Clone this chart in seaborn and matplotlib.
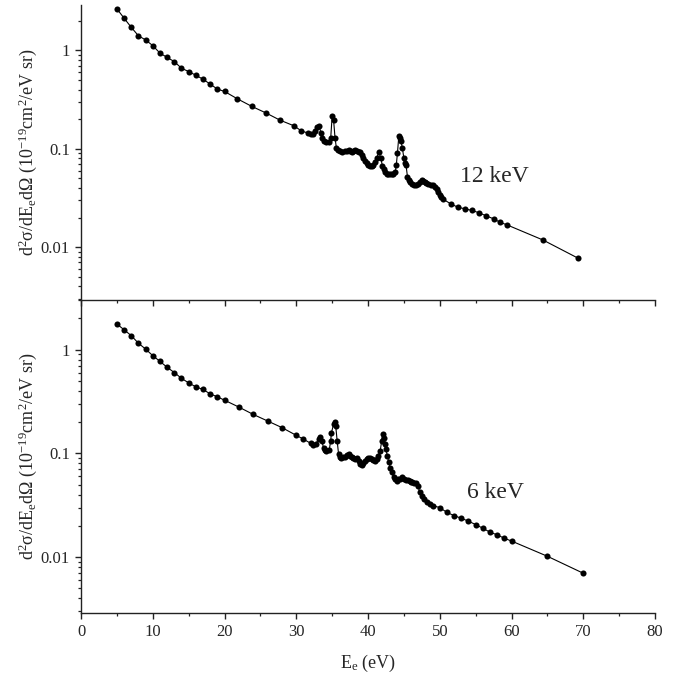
import numpy as np
import pandas as pd
import matplotlib
matplotlib.use("Agg")
import matplotlib.pyplot as plt
import seaborn as sns
from matplotlib.ticker import LogLocator, NullFormatter, MultipleLocator, FixedLocator, FixedFormatter

# ---------------- data ----------------
e_12kev = [5, 6, 7, 8, 9, 10, 11, 12, 13, 14, 15, 16, 17, 18, 19, 20,
           21.8, 23.8, 25.8, 27.7, 29.7, 30.7, 31.7, 32.0, 32.3, 32.6, 32.9, 33.2,
           33.45, 33.65, 33.9, 34.2, 34.5, 34.8, 35.0, 35.2, 35.4, 35.6, 35.85, 36.1,
           36.4, 36.8, 37.05, 37.3, 37.5, 37.7, 37.95, 38.2, 38.45, 38.7, 38.9, 39.1,
           39.3, 39.55, 39.8, 40.05, 40.3, 40.5, 40.7, 40.95, 41.2, 41.5, 41.8, 42.0,
           42.2, 42.4, 42.6, 42.8, 43.05, 43.3, 43.55, 43.8, 43.95, 44.1, 44.3, 44.45,
           44.6, 44.8, 45.0, 45.15, 45.3, 45.5, 45.7, 45.9, 46.15, 46.4, 46.65, 46.9,
           47.2, 47.5, 47.7, 47.9, 48.15, 48.4, 48.75, 49.1, 49.35, 49.6, 49.8, 50.0,
           50.2, 50.4, 51.5, 52.5, 53.5, 54.5, 55.5, 56.4, 57.5, 58.4, 59.4, 64.4, 69.3]
cs_12kev = [2.65, 2.13, 1.72, 1.41, 1.28, 1.12, 0.94, 0.85, 0.77, 0.66, 0.61, 0.56,
            0.51, 0.455, 0.405, 0.383, 0.322, 0.27, 0.231, 0.196, 0.171, 0.152, 0.144,
            0.140, 0.142, 0.150, 0.165, 0.171, 0.144, 0.128, 0.120, 0.117, 0.117, 0.128,
            0.214, 0.197, 0.130, 0.101, 0.097, 0.094, 0.093, 0.094, 0.096, 0.097, 0.094,
            0.092, 0.095, 0.097, 0.095, 0.093, 0.092, 0.086, 0.080, 0.075, 0.071, 0.068,
            0.067, 0.067, 0.069, 0.074, 0.080, 0.092, 0.080, 0.067, 0.062, 0.058, 0.056,
            0.055, 0.055, 0.055, 0.056, 0.058, 0.069, 0.090, 0.136, 0.128, 0.119, 0.101,
            0.080, 0.072, 0.068, 0.052, 0.048, 0.046, 0.044, 0.0426, 0.043, 0.044, 0.046,
            0.048, 0.047, 0.046, 0.045, 0.044, 0.043, 0.0426, 0.041, 0.039, 0.036, 0.0336,
            0.032, 0.031, 0.0276, 0.0255, 0.0245, 0.0236, 0.0223, 0.0209, 0.0194, 0.0179,
            0.0168, 0.0118, 0.0077]

e_6kev = [5, 6, 7, 8, 9, 10, 11, 12, 13, 14, 15, 16, 17, 18, 19, 20, 22, 24, 26, 28,
          30, 31, 32.0, 32.4, 32.75, 33.1, 33.3, 33.55, 33.8, 34.0, 34.2, 34.6, 34.8,
          34.9, 35.2, 35.4, 35.5, 35.7, 35.9, 36.1, 36.3, 36.55, 36.8, 37.05, 37.3, 37.5,
          37.7, 37.95, 38.2, 38.5, 38.7, 38.9, 39.1, 39.35, 39.6, 39.8, 40.0, 40.25, 40.5,
          40.75, 41.0, 41.2, 41.4, 41.7, 41.9, 42.05, 42.2, 42.4, 42.5, 42.7, 42.9, 43.1,
          43.3, 43.6, 43.8, 44.0, 44.25, 44.5, 44.8, 45.05, 45.3, 45.55, 45.8, 46.0, 46.2,
          46.45, 46.7, 47.0, 47.2, 47.5, 47.8, 48.2, 48.6, 49.1, 50, 51, 52, 53, 54, 55,
          56, 57, 58, 59, 60, 65, 70]
cs_6kev = [1.76, 1.55, 1.36, 1.15, 1.01, 0.873, 0.769, 0.674, 0.60, 0.528, 0.477, 0.437,
           0.412, 0.374, 0.35, 0.325, 0.279, 0.237, 0.205, 0.177, 0.149, 0.137, 0.125,
           0.120, 0.124, 0.137, 0.145, 0.132, 0.1135, 0.108, 0.105, 0.108, 0.132, 0.158,
           0.190, 0.200, 0.183, 0.132, 0.098, 0.093, 0.091, 0.092, 0.093, 0.096, 0.098,
           0.095, 0.093, 0.091, 0.089, 0.091, 0.085, 0.0786, 0.0768, 0.080, 0.0846, 0.088,
           0.091, 0.090, 0.088, 0.086, 0.0846, 0.089, 0.0944, 0.105, 0.132, 0.155, 0.139,
           0.122, 0.109, 0.0944, 0.0816, 0.073, 0.0655, 0.0586, 0.056, 0.0545, 0.056,
           0.0572, 0.059, 0.057, 0.0555, 0.055, 0.0545, 0.053, 0.0525, 0.052, 0.052, 0.048,
           0.042, 0.039, 0.0363, 0.0342, 0.0327, 0.0313, 0.030, 0.027, 0.0251, 0.0237,
           0.0222, 0.0206, 0.019, 0.0174, 0.0164, 0.0152, 0.0143, 0.0102, 0.0070]

panel_labels = ["12 keV", "6 keV"]
x_ticks = [0, 10, 20, 30, 40, 50, 60, 70, 80]
y_ticks = [0.01, 0.1, 1]
y_ticklabels = ["0.01", "0.1", "1"]

# ---------------- style ----------------
sns.set_style("ticks")
plt.rcParams["font.family"] = ["Liberation Serif", "DejaVu Serif"]
plt.rcParams["mathtext.fontset"] = "custom"
plt.rcParams["mathtext.rm"] = "Liberation Serif"
plt.rcParams["mathtext.it"] = "Liberation Serif:italic"
plt.rcParams["mathtext.default"] = "regular"

fig = plt.figure(figsize=(6.82, 6.75), dpi=100)
ax1 = fig.add_axes([0.1188, 0.5556, 0.8416, 0.4370])
ax2 = fig.add_axes([0.1188, 0.0919, 0.8416, 0.4637])
for ax in (ax1, ax2):
    ax.patch.set_alpha(0.0)
ax1.set_zorder(3)

df1 = pd.DataFrame({"E": e_12kev, "cs": cs_12kev})
df2 = pd.DataFrame({"E": e_6kev, "cs": cs_6kev})

for ax, df in ((ax1, df1), (ax2, df2)):
    sns.lineplot(data=df, x="E", y="cs", ax=ax, color="black", linewidth=0.8,
                 marker="o", markersize=4.4, markeredgewidth=0, sort=False,
                 estimator=None)

ylabel = r"d$^2$σ/dE$_e$dΩ (10$^{-19}$cm$^2$/eV sr)"
lims = [(0.0029, 2.9), (0.0029, 3.0)]
for i, ax in enumerate((ax1, ax2)):
    ax.set_yscale("log")
    ax.set_xlim(0, 80)
    ax.set_ylim(*lims[i])
    ax.yaxis.set_major_locator(FixedLocator(y_ticks))
    ax.yaxis.set_major_formatter(FixedFormatter(y_ticklabels))
    ax.yaxis.set_minor_locator(LogLocator(base=10, subs=np.arange(2, 10)))
    ax.yaxis.set_minor_formatter(NullFormatter())
    ax.xaxis.set_major_locator(FixedLocator(x_ticks))
    ax.xaxis.set_minor_locator(MultipleLocator(5))
    for s in ("top", "right"):
        ax.spines[s].set_visible(False)
    for s in ("left", "bottom"):
        ax.spines[s].set_color("#222222")
        ax.spines[s].set_linewidth(1.0)
    ax.tick_params(axis="both", which="major", direction="out", length=4.5,
                   width=1.0, color="#222222", labelsize=12)
    ax.tick_params(axis="both", which="minor", direction="out", length=2.5,
                   width=0.9, color="#222222")
    ax.set_xlabel("")
    ax.set_ylabel(ylabel, fontsize=13)
    ax.yaxis.set_label_coords(-0.074, 0.5)
    ax.text(0.66 if i == 0 else 0.673, 0.42 if i == 0 else 0.385, panel_labels[i],
            transform=ax.transAxes, fontsize=17, va="center", ha="left")

ax1.tick_params(axis="x", labelbottom=False)
ax2.set_xlabel(r"E$_e$ (eV)", fontsize=13, labelpad=9)
ax2.set_xticklabels([str(v) for v in x_ticks])

fig.savefig("out.png", dpi=100)
